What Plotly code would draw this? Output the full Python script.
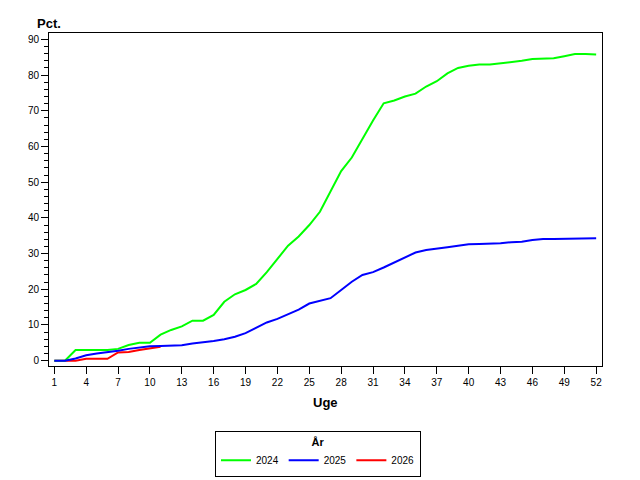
import plotly.graph_objects as go

weeks = [1, 2, 3, 4, 5, 6, 7, 8, 9, 10, 11, 12, 13, 14, 15, 16, 17, 18, 19, 20,
         21, 22, 23, 24, 25, 26, 27, 28, 29, 30, 31, 32, 33, 34, 35, 36, 37, 38, 39, 40,
         41, 42, 43, 44, 45, 46, 47, 48, 49, 50, 51, 52]

pct_2024 = [0.0, 0.0, 3.0, 3.0, 3.0, 3.0, 3.3, 4.4, 5.0, 5.0,
            7.3, 8.6, 9.6, 11.2, 11.2, 12.8, 16.5, 18.6, 19.8, 21.5,
            24.8, 28.5, 32.2, 34.8, 38.0, 41.7, 47.6, 53.1, 56.9, 62.3,
            67.3, 72.1, 72.9, 74.0, 74.8, 76.8, 78.3, 80.5, 82.0, 82.6,
            83.0, 83.0, 83.3, 83.6, 84.0, 84.5, 84.6, 84.7, 85.3, 85.9,
            85.9, 85.8]

pct_2025 = [0.0, 0.0, 0.6, 1.5, 2.0, 2.3, 2.8, 3.3, 3.7, 4.0,
            4.1, 4.1, 4.3, 4.8, 5.1, 5.5, 6.0, 6.7, 7.7, 9.1,
            10.7, 11.7, 12.9, 14.3, 16.0, 16.7, 17.5, 19.8, 22.1, 24.0,
            24.8, 26.1, 27.5, 28.8, 30.3, 31.0, 31.5, 31.8, 32.2, 32.6,
            32.7, 32.7, 32.9, 33.2, 33.3, 33.8, 34.1, 34.1, 34.1, 34.1,
            34.1, 34.3]

pct_2026 = [0.0, 0.0, 0.0, 0.5, 0.5, 0.5, 2.3, 2.4, 3.0, 3.5, 3.9]

x_ticks = [1, 4, 7, 10, 13, 16, 19, 22, 25, 28, 31, 34, 37, 40, 43, 46, 49, 52]
y_ticks = [0, 10, 20, 30, 40, 50, 60, 70, 80, 90]

FONT = "Liberation Sans"

fig = go.Figure()
# red first, blue last: blue sits on top where the lines overlap
fig.add_trace(go.Scatter(x=weeks[:len(pct_2026)], y=pct_2026, mode="lines", name="2026",
                         line={"color": "#ff0000", "width": 2}, legendrank=3))
fig.add_trace(go.Scatter(x=weeks, y=pct_2024, mode="lines", name="2024",
                         line={"color": "#00ff00", "width": 2}, legendrank=1))
fig.add_trace(go.Scatter(x=weeks, y=pct_2025, mode="lines", name="2025",
                         line={"color": "#0000ff", "width": 2}, legendrank=2))

axis_common = {
    "showline": True,
    "linecolor": "black",
    "linewidth": 1,
    "mirror": True,
    "showgrid": False,
    "zeroline": False,
    "ticks": "outside",
    "ticklen": 7,
    "tickcolor": "black",
    "tickfont": {"family": FONT, "size": 10, "color": "black"},
}

# page body has an 8px margin, so the figure is 632x472 and sits at (8, 8)
fig.update_layout(
    width=632,
    height=472,
    margin={"l": 41, "r": 38, "t": 25, "b": 114},
    paper_bgcolor="white",
    plot_bgcolor="white",
    font={"family": FONT, "color": "black"},
    xaxis={**axis_common, "range": [0.5, 52.55], "tickvals": x_ticks},
    yaxis={**axis_common, "range": [-1.5, 91.8], "tickvals": y_ticks,
           "minor": {"dtick": 2, "ticklen": 4, "tickcolor": "black", "ticks": "outside"}},
    legend={
        "orientation": "h",
        "xref": "container",
        "yref": "container",
        "x": 0.4905,
        "xanchor": "center",
        "y": 0.0561,
        "yanchor": "middle",
        "bordercolor": "black",
        "borderwidth": 1,
        "font": {"family": FONT, "size": 10},
        "title": {"text": "<b>År</b>", "side": "top center",
                  "font": {"family": FONT, "size": 11}},
        "itemwidth": 30,
        "traceorder": "normal",
    },
    annotations=[
        {"text": "<b>Pct.</b>", "xref": "paper", "yref": "paper", "x": 0, "y": 1,
         "xanchor": "center", "yanchor": "bottom", "showarrow": False,
         "font": {"family": FONT, "size": 13}},
        {"text": "<b>Uge</b>", "xref": "paper", "yref": "paper", "x": 0.5, "y": 0,
         "xanchor": "center", "yanchor": "middle", "yshift": -36, "showarrow": False,
         "font": {"family": FONT, "size": 13}},
    ],
)

fig.write_html("out.html")
